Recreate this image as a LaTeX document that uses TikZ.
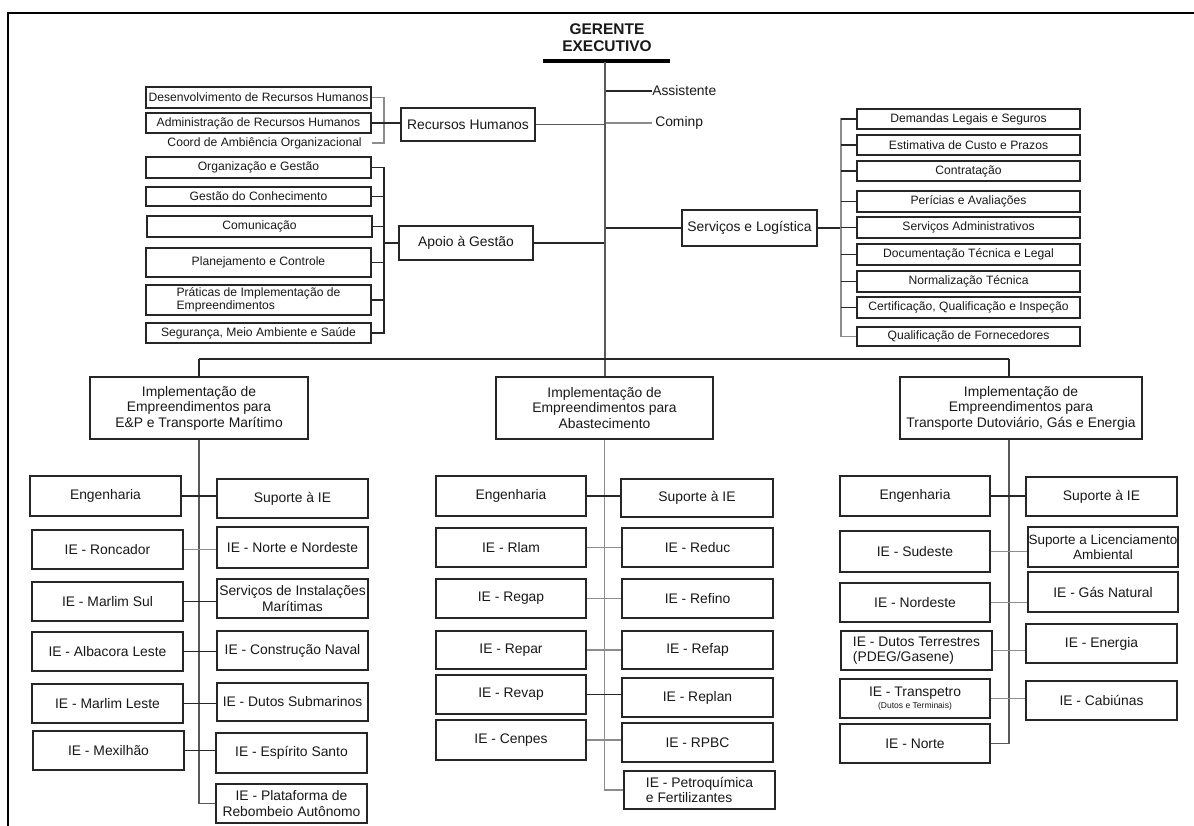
\documentclass[tikz,border=0pt]{standalone}
\usepackage{fontspec}
\setmainfont{Liberation Sans}
\tikzset{
  box/.style={draw=black!85, line width=1pt, inner sep=0pt, align=center, fill=white, text=black!90},
  sm/.style={font=\fontsize{9.1}{9.8}\selectfont},
  md/.style={font=\fontsize{10.4}{11.6}\selectfont},
  conn/.style={draw=black!85, line width=0.8pt},
  mconn/.style={draw=black!65, line width=0.8pt},
  gconn/.style={draw=black!45, line width=0.8pt},
  lbl/.style={inner sep=0pt, text=black!90, md},
}
% box given by its corners in pixel units
\newcommand\obox[7][]{\node[box,#1,minimum width={(#5-#3)*0.75pt},minimum height={(#6-#4)*0.75pt}] (#2) at ({(#3+#5)/2},{(#4+#6)/2}) {#7};}
\begin{document}
\begin{tikzpicture}[x=0.75pt,y=-0.75pt]
\useasboundingbox (0,0) rectangle (1194,825);
% frame
\draw[line width=2.2pt, line cap=rect] (8,830) -- (8,13) -- (1200,13);

% head
\node[inner sep=0pt, align=center, font=\fontsize{11.6}{12.75}\selectfont\bfseries, text=black!90] (ger) at (607,37.5) {GERENTE\\EXECUTIVO};
\coordinate (barl) at (543,61);
\coordinate (barr) at (670,61);
\draw[line width=2.6pt] (barl) -- (barr);
\coordinate (top) at (605,62);
\coordinate (c1) at (199,359);
\coordinate (c3) at (1009,359);

% staff
\node[lbl, anchor=west] (ass) at (652,91) {Assistente};
\node[lbl, anchor=west] (cmp) at (655,123) {Cominp};
\draw[conn] (ass.west -| top) -- (ass.west);
\draw[gconn] (cmp.west -| top) -- ([xshift=-2pt]cmp.west);

% Recursos Humanos
\obox[md]{rh}{401}{108}{535}{141}{Recursos Humanos}
\obox[sm]{des}{146}{87}{371}{108}{Desenvolvimento de Recursos Humanos}
\obox[sm]{adm}{146}{113}{371}{133}{Administração de Recursos Humanos}
\node[sm, inner sep=0pt, anchor=east, text=black!90] (amb) at (362,143) {Coord de Ambiência Organizacional};
\coordinate (brh) at (384,0);
\draw[gconn] (des.east) -- (des.east -| brh) -- (amb.east -| brh) -- ([xshift=7.5pt]amb.east);
\draw[conn] (adm.east) -- (adm.east -| rh.west);
\draw[mconn] (rh.east) -- (rh.east -| top);

% Apoio a Gestao
\obox[sm]{org}{146}{157}{371}{178}{Organização e Gestão}
\obox[sm]{gco}{146}{187}{371}{206}{Gestão do Conhecimento}
\obox[sm]{com}{147}{216}{372}{237}{Comunicação}
\obox[sm]{pla}{146}{248}{371}{277}{Planejamento e Controle}
\obox[sm, align=left]{pra}{146}{285}{371}{315}{Práticas de Implementação de\\Empreendimentos}
\obox[sm]{seg}{146}{323}{371}{343}{Segurança, Meio Ambiente e Saúde}
\obox[md]{apo}{399}{226}{533}{260}{Apoio à Gestão}
\coordinate (bap) at (384,0);
\draw[conn] (org.east) -- (org.east -| bap) -- (seg.east -| bap) -- (seg.east);
\foreach \n in {gco,com,pla,pra} \draw[conn] (\n.east) -- (\n.east -| bap);
\draw[conn] (apo.west -| bap) -- (apo.west);
\draw[conn] (apo.east) -- (apo.east -| top);

% Servicos e Logistica
\obox[md]{srv}{682}{210}{817}{246}{Serviços e Logística}
\obox[sm]{dem}{857}{109}{1080}{129}{Demandas Legais e Seguros}
\obox[sm]{est}{857}{135}{1080}{155}{Estimativa de Custo e Prazos}
\obox[sm]{con}{857}{161}{1080}{181}{Contratação}
\obox[sm]{per}{857}{191}{1080}{212}{Perícias e Avaliações}
\obox[sm]{sad}{857}{217}{1080}{238}{Serviços Administrativos}
\obox[sm]{doc}{857}{244}{1080}{265}{Documentação Técnica e Legal}
\obox[sm]{nor}{857}{271}{1080}{292}{Normalização Técnica}
\obox[sm]{cer}{857}{297}{1080}{318}{Certificação, Qualificação e Inspeção}
\obox[sm]{qua}{857}{327}{1080}{346}{Qualificação de Fornecedores}
\coordinate (bsv) at (841,0);
\draw[conn] (srv.west -| top) -- (srv.west);
\draw[conn] (srv.east) -- (srv.east -| bsv);
\draw[gconn] (dem.west) -- (dem.west -| bsv) -- (qua.west -| bsv) -- (qua.west);
\foreach \n in {dem,est,con,per,sad,doc,nor,cer} \draw[conn] (\n.west -| bsv) -- (\n.west);

% divisions
\obox[md]{d1}{90}{377}{308}{439}{Implementação de\\Empreendimentos para\\E\&P e Transporte Marítimo}
\obox[md]{d2}{496}{377}{713}{439}{Implementação de\\Empreendimentos para\\Abastecimento}
\obox[md]{d3}{900}{377}{1142}{439}{Implementação de\\Empreendimentos para\\Transporte Dutoviário, Gás e Energia}
\draw[mconn] (top) -- (top |- d2.north);
\draw[conn] (c1) -- (c3);
\draw[conn] (c1) -- (c1 |- d1.north);
\draw[conn] (c3) -- (c3 |- d3.north);

% E&P column
\obox[md]{a1}{30}{476}{181}{516}{Engenharia}
\obox[md]{b1}{217}{479}{368}{518}{Suporte à IE}
\obox[md]{a2}{32}{530}{183}{569}{IE - Roncador}
\obox[md]{b2}{217}{527}{368}{568}{IE - Norte e Nordeste}
\obox[md]{a3}{32}{582}{183}{621}{IE - Marlim Sul}
\obox[md]{b3}{217}{579}{368}{618}{Serviços de Instalações\\Marítimas}
\obox[md]{a4}{32}{632}{183}{671}{IE - Albacora Leste}
\obox[md]{b4}{217}{631}{368}{670}{IE - Construção Naval}
\obox[md]{a5}{32}{684}{183}{723}{IE - Marlim Leste}
\obox[md]{b5}{217}{683}{368}{721}{IE - Dutos Submarinos}
\obox[md]{a6}{33}{731}{184}{770}{IE - Mexilhão}
\obox[md]{b6}{216}{733}{367}{773}{IE - Espírito Santo}
\obox[md]{b7}{216}{784}{367}{823}{IE - Plataforma de\\Rebombeio Autônomo}
\draw[mconn] (d1.south) -- (d1.south |- b7.west) -- (b7.west);
\foreach \i/\s in {1/conn,2/gconn,3/conn,4/conn,5/conn,6/conn}
  \draw[\s] (a\i.east) -- (a\i.east -| b\i.west);

% Abastecimento column
\obox[md]{m1}{436}{476}{586}{516}{Engenharia}
\obox[md]{n1}{621}{479}{773}{517}{Suporte à IE}
\obox[md]{m2}{436}{528}{586}{567}{IE - Rlam}
\obox[md]{n2}{622}{528}{773}{567}{IE - Reduc}
\obox[md]{m3}{436}{579}{586}{618}{IE - Regap}
\obox[md]{n3}{622}{579}{773}{618}{IE - Refino}
\obox[md]{m4}{436}{631}{586}{669}{IE - Repar}
\obox[md]{n4}{622}{631}{773}{669}{IE - Refap}
\obox[md]{m5}{436}{675}{586}{714}{IE - Revap}
\obox[md]{n5}{622}{678}{773}{717}{IE - Replan}
\obox[md]{m6}{436}{720}{586}{760}{IE - Cenpes}
\obox[md]{n6}{622}{723}{773}{762}{IE - RPBC}
\obox[md, align=left]{n7}{624}{771}{775}{809}{IE - Petroquímica\\e Fertilizantes}
\draw[gconn] (d2.south) -- (d2.south |- n7.west) -- (n7.west);
\foreach \i/\s in {1/conn,2/gconn,3/gconn,4/gconn,5/conn,6/gconn}
  \draw[\s] (m\i.east) -- (m\i.east -| n\i.west);

% Dutoviario column
\obox[md]{p1}{840}{476}{990}{516}{Engenharia}
\obox[md]{q1}{1026}{477}{1177}{516}{Suporte à IE}
\obox[md]{p2}{840}{531}{990}{572}{IE - Sudeste}
\obox[font=\fontsize{10.1}{11.2}\selectfont]{q2}{1028}{527}{1178}{567}{Suporte a Licenciamento\\Ambiental}
\obox[md]{p3}{840}{583}{990}{622}{IE - Nordeste}
\obox[md]{q3}{1028}{572}{1178}{612}{IE - Gás Natural}
\obox[md, align=left]{p4}{841}{631}{992}{670}{IE - Dutos Terrestres\\(PDEG/Gasene)}
\obox[md]{q4}{1026}{624}{1177}{663}{IE - Energia}
\obox[md]{p5}{840}{679}{990}{718}{IE - Transpetro\\[-3pt]{\fontsize{6.4}{7}\selectfont(Dutos e Terminais)}}
\obox[md]{q5}{1026}{681}{1177}{720}{IE - Cabiúnas}
\obox[md]{p6}{840}{724}{990}{763}{IE - Norte}
\draw[mconn] (c3 |- d3.south) -- (c3 |- p6.east) -- (p6.east);
\foreach \i/\s in {1/conn,2/gconn,3/gconn,4/gconn,5/gconn}
  \draw[\s] (p\i.east) -- (p\i.east -| q\i.west);
\end{tikzpicture}
\end{document}
